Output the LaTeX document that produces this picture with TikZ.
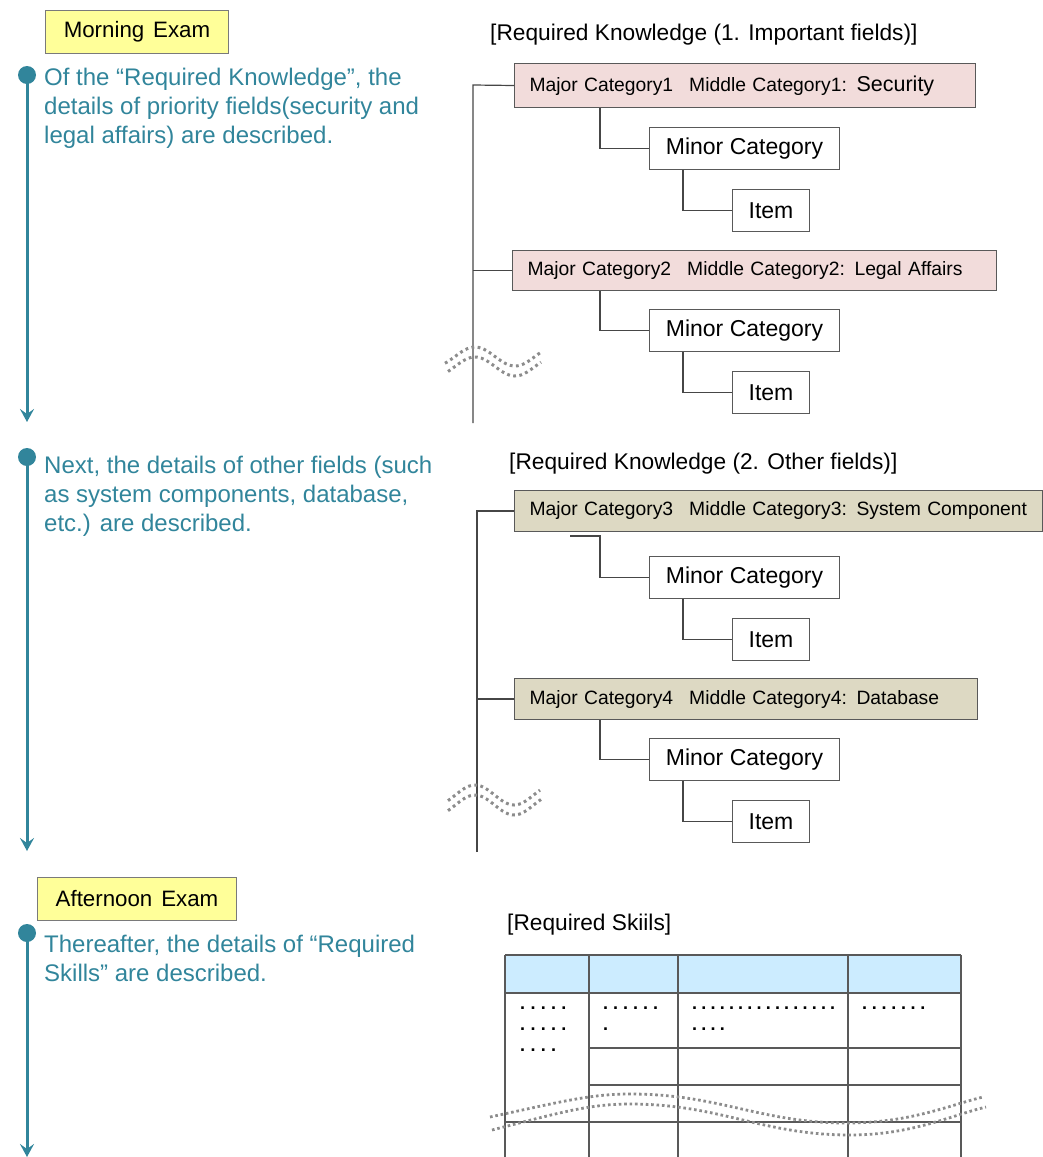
\documentclass[tikz,border=0pt]{standalone}
\usepackage{fontspec}
\setmainfont{Liberation Sans}
\usetikzlibrary{arrows.meta,calc}
\definecolor{tealc}{RGB}{49,133,155}
\definecolor{examyellow}{RGB}{255,255,153}
\definecolor{pinkfill}{RGB}{242,220,219}
\definecolor{tanfill}{RGB}{221,217,195}
\definecolor{headblue}{RGB}{204,236,255}
\definecolor{boxgray}{RGB}{89,89,89}
\definecolor{linegray}{RGB}{70,70,70}
\definecolor{wavegray}{RGB}{140,140,140}
\newcommand{\dotrow}[2]{\foreach \k in {1,...,#1}{\makebox[#2][l]{.}}}
\begin{document}
\begin{tikzpicture}[x=1pt,y=-1pt,
  examlabel/.style={draw=boxgray!80, fill=examyellow, line width=1pt, inner sep=0pt, anchor=north west, font=\fontsize{22.3}{26}\selectfont},
  bullettext/.style={text=tealc, anchor=base west, inner sep=0pt, font=\fontsize{24}{29}\selectfont},
  titletext/.style={anchor=base west, inner sep=0pt, font=\fontsize{22.7}{27}\selectfont},
  dot/.style={circle, fill=tealc, minimum size=18pt, inner sep=0pt},
  timeline/.style={draw=tealc, line width=3pt, -{Stealth[length=13pt, width=14pt, inset=5pt]}},
  treeline/.style={draw=linegray, line width=1.2pt},
  majorbox/.style={draw=boxgray, line width=1pt, anchor=north west, align=left, inner xsep=15pt, inner ysep=0pt, font=\fontsize{19.3}{23}\selectfont},
  minorbox/.style={draw=boxgray, fill=white, line width=1pt, anchor=north west, minimum width=190, minimum height=42, inner sep=0pt, font=\fontsize{23}{27}\selectfont},
  itembox/.style={draw=boxgray, fill=white, line width=1pt, anchor=north west, minimum width=77, minimum height=42, inner sep=0pt, font=\fontsize{23}{27}\selectfont},
  wavy/.style={draw=wavegray, line width=3pt, dash pattern=on 2.8pt off 3.4pt},
  tablewavy/.style={draw=wavegray, line width=2.8pt, dash pattern=on 2.6pt off 2.8pt},
  tablegrid/.style={draw=boxgray, line width=1.2pt},
  dotstext/.style={anchor=base west, inner sep=0pt, font=\bfseries\fontsize{18}{21}\selectfont}
]
\useasboundingbox (0,0) rectangle (1043,1157);

% ---------- Timeline ----------
\node[dot] (b1) at (27,75) {};
\coordinate (e1) at (27,422);
\draw[timeline] (b1.center) -- (e1);
\node[dot] (b2) at (27,457) {};
\coordinate (e2) at (27,851);
\draw[timeline] (b2.center) -- (e2);
\node[dot] (b3) at (27,933) {};
\coordinate (e3) at (27,1157);
\draw[timeline] (b3.center) -- (e3);

% ---------- Exam labels ----------
\node[examlabel, minimum width=183, minimum height=43] (morning) at (45,10) {Morning\hspace{0.4em}Exam};
\node[examlabel, minimum width=199, minimum height=43] (afternoon) at (37,877) {Afternoon\hspace{0.4em}Exam};

% ---------- Left texts ----------
\node[bullettext] (t1a) at (44,85) {Of the “Required Knowledge”, the};
\node[bullettext] (t1b) at (44,114) {details of priority fields(security and};
\node[bullettext] (t1c) at (44,143) {legal affairs) are described.};
\node[bullettext] (t2a) at (44,473) {Next, the details of other fields (such};
\node[bullettext] (t2b) at (44,502) {as system components, database,};
\node[bullettext] (t2c) at (44,531) {etc.) are described.};
\node[bullettext] (t3a) at (44,952) {Thereafter, the details of “Required};
\node[bullettext] (t3b) at (44,981) {Skills” are described.};

% ---------- Titles ----------
\node[titletext] (h1) at (490,40) {[Required Knowledge (1. Important fields)]};
\node[titletext] (h2) at (509,469) {[Required Knowledge (2. Other fields)]};
\node[titletext] (h3) at (507,930) {[Required Skiils]};

% ---------- Tree 1 ----------
\node[majorbox, fill=pinkfill, text width=431, minimum height=44] (m1) at (514,63)
  {\mbox{Major Category1\hspace*{16pt}Middle Category1: {\fontsize{21.5}{23}\selectfont Security}}};
\node[minorbox] (n1) at (649,127) {Minor Category};
\node[itembox] (i1) at (732,189) {Item};
\node[majorbox, fill=pinkfill, text width=454, minimum height=40] (m2) at (512,250)
  {\mbox{Major Category2\hspace*{16pt}Middle Category2: Legal Affairs}};
\node[minorbox] (n2) at (649,309) {Minor Category};
\node[itembox] (i2) at (732,371) {Item};
\coordinate (s1top) at (473,85);
\coordinate (s1bot) at (473,423);
\draw[treeline] (s1bot) -- (s1top) -- (m1.west);
\draw[treeline] (m2.west) -- (m2.west -| s1top);
\draw[treeline] ([xshift=86pt]m1.south west) |- (n1.west);
\draw[treeline] ([xshift=34pt]n1.south west) |- (i1.west);
\draw[treeline] ([xshift=88pt]m2.south west) |- (n2.west);
\draw[treeline] ([xshift=34pt]n2.south west) |- (i2.west);
\draw[wavy] plot[domain=445:540, samples=40] (\x, {356.5-9.5*cos((\x-475)*4.5)});
\draw[wavy] plot[domain=448:541, samples=40] (\x, {366.5-9.5*cos((\x-475)*4.5)});

% ---------- Tree 2 ----------
\node[majorbox, fill=tanfill, text width=498, minimum height=41] (m3) at (514,490)
  {\mbox{Major Category3\hspace*{16pt}Middle Category3: System Component}};
\node[minorbox] (n3) at (649,556) {Minor Category};
\node[itembox] (i3) at (732,618) {Item};
\node[majorbox, fill=tanfill, text width=433, minimum height=41] (m4) at (514,678)
  {\mbox{Major Category4\hspace*{16pt}Middle Category4: Database}};
\node[minorbox] (n4) at (649,738) {Minor Category};
\node[itembox] (i4) at (732,800) {Item};
\coordinate (s2top) at (477,511);
\coordinate (s2bot) at (477,852);
\draw[treeline] (s2bot) -- (s2top) -- (m3.west);
\draw[treeline] (m4.west) -- (m4.west -| s2top);
\coordinate (c3) at (570,536);
\draw[treeline] (c3) -- ++(30,0) |- (n3.west);
\draw[treeline] ([xshift=34pt]n3.south west) |- (i3.west);
\draw[treeline] ([xshift=86pt]m4.south west) |- (n4.west);
\draw[treeline] ([xshift=34pt]n4.south west) |- (i4.west);
\draw[wavy] plot[domain=448:540, samples=40] (\x, {795-10*cos((\x-475)*4.6)});
\draw[wavy] plot[domain=448:541, samples=40] (\x, {805-10*cos((\x-475)*4.6)});

% ---------- Table ----------
\fill[headblue] (505,955) rectangle (961,993);
\draw[tablegrid] (505,955) -- (961,955);
\draw[tablegrid] (505,993) -- (961,993);
\draw[tablegrid] (589,1048) -- (961,1048);
\draw[tablegrid] (589,1085) -- (961,1085);
\draw[tablegrid] (505,1122) -- (961,1122);
\foreach \cx in {505,589,678,848,961} \draw[tablegrid] (\cx,955) -- (\cx,1157);
\node[dotstext] (d1a) at (520,1009.5) {\dotrow{5}{10.3pt}};
\node[dotstext] (d1b) at (520,1030.5) {\dotrow{5}{10.3pt}};
\node[dotstext] (d1c) at (520,1051.5) {\dotrow{4}{10.3pt}};
\node[dotstext] (d2a) at (603,1009.5) {\dotrow{6}{10pt}};
\node[dotstext] (d2b) at (603,1030.5) {\dotrow{1}{10pt}};
\node[dotstext] (d3a) at (692,1009.5) {\dotrow{16}{9.2pt}};
\node[dotstext] (d3b) at (692,1030.5) {\dotrow{4}{9.2pt}};
\node[dotstext] (d4a) at (862,1009.5) {\dotrow{7}{9.7pt}};
\draw[tablewavy] (490,1117) .. controls (560,1102) and (590,1094) .. (630,1094)
  .. controls (720,1094) and (760,1123) .. (847,1123)
  .. controls (910,1123) and (950,1105) .. (983,1097);
\draw[tablewavy] (492,1130) .. controls (562,1112) and (590,1104) .. (630,1104)
  .. controls (720,1104) and (762,1135) .. (850,1135)
  .. controls (912,1135) and (952,1115) .. (986,1107);
\end{tikzpicture}
\end{document}
